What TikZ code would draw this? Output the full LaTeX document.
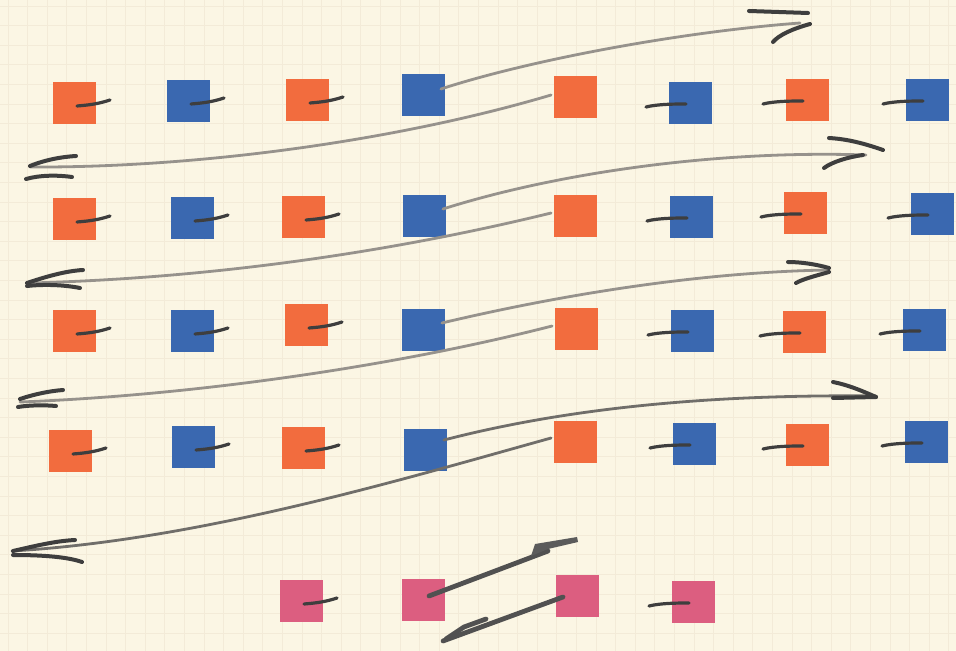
\documentclass[tikz,border=0pt]{standalone}
\usetikzlibrary{calc}
\definecolor{paper}{RGB}{251,246,228}
\definecolor{gridc}{RGB}{243,235,216}
\definecolor{orangeC}{RGB}{242,108,62}
\definecolor{blueC}{RGB}{58,104,176}
\definecolor{pinkC}{RGB}{220,94,128}
\definecolor{pencil}{RGB}{62,62,62}
\definecolor{lightpencil}{RGB}{150,146,140}
\definecolor{midpencil}{RGB}{112,110,106}
\newcommand\rtail[1]{\draw[tail] ([shift={(3,3)}]#1.center) .. controls +(12,-1) and +(-12,4) .. ([shift={(36,-3)}]#1.center);}
\newcommand\ltail[1]{\draw[tail] ([shift={(-44,4)}]#1.center) .. controls +(12,-3) and +(-10,0) .. ([shift={(-4,1)}]#1.center);}
\begin{document}
\begin{tikzpicture}[x=0.5pt,y=-0.5pt,
  sq/.style={rectangle,minimum width=21.5pt,minimum height=21pt,inner sep=0pt,draw=none},
  osq/.style={sq,fill=orangeC},
  bsq/.style={sq,fill=blueC},
  psq/.style={sq,fill=pinkC},
  tail/.style={draw=pencil,line width=1.6pt,line cap=round},
  shaft/.style={draw=lightpencil,line width=1.4pt,line cap=round},
  darkshaft/.style={draw=midpencil,line width=1.4pt,line cap=round},
  pinkshaft/.style={draw=pencil!90,line width=2.4pt,line cap=round},
  barb/.style={draw=pencil,line width=2pt,line cap=round},
  ]
\useasboundingbox (0,0) rectangle (956,651);
\fill[paper] (0,0) rectangle (956,651);
\foreach \i in {0,...,49} {\draw[gridc,line width=0.4pt] (\i*19.6+8,0) -- (\i*19.6+8,651);}
\foreach \j in {0,...,33} {\draw[gridc,line width=0.4pt] (0,\j*19.6+6) -- (956,\j*19.6+6);}

% row 1
\node[osq] (o11) at (74,103) {};
\node[bsq] (b12) at (188,101) {};
\node[osq] (o13) at (307,100) {};
\node[bsq] (b14) at (423,95) {};
\node[osq] (o15) at (575,97) {};
\node[bsq] (b16) at (690,103) {};
\node[osq] (o17) at (807,100) {};
\node[bsq] (b18) at (927,100) {};
% row 2
\node[osq] (o21) at (74,219) {};
\node[bsq] (b22) at (192,218) {};
\node[osq] (o23) at (303,217) {};
\node[bsq] (b24) at (424,216) {};
\node[osq] (o25) at (575,216) {};
\node[bsq] (b26) at (691,217) {};
\node[osq] (o27) at (805,213) {};
\node[bsq] (b28) at (932,214) {};
% row 3
\node[osq] (o31) at (74,331) {};
\node[bsq] (b32) at (192,331) {};
\node[osq] (o33) at (306,325) {};
\node[bsq] (b34) at (423,330) {};
\node[osq] (o35) at (576,329) {};
\node[bsq] (b36) at (692,331) {};
\node[osq] (o37) at (804,332) {};
\node[bsq] (b38) at (924,330) {};
% row 4
\node[osq] (o41) at (70,451) {};
\node[bsq] (b42) at (193,447) {};
\node[osq] (o43) at (303,448) {};
\node[bsq] (b44) at (425,450) {};
\node[osq] (o45) at (575,442) {};
\node[bsq] (b46) at (694,444) {};
\node[osq] (o47) at (807,445) {};
\node[bsq] (b48) at (926,442) {};
% pink row
\node[psq] (p1) at (301,601) {};
\node[psq] (p2) at (423,600) {};
\node[psq] (p3) at (577,596) {};
\node[psq] (p4) at (693,602) {};

% short tails
\foreach \n in {o11,b12,o13,o21,b22,o23,o31,b32,o33,o41,b42,o43,p1} {\rtail{\n}}
\foreach \n in {b16,o17,b18,b26,o27,b28,b36,o37,b38,b46,o47,b48,p4} {\ltail{\n}}

% tips
\coordinate (t1) at (800,23);
\coordinate (t2) at (30,167);
\coordinate (t3) at (866,155);
\coordinate (t4) at (30,283);
\coordinate (t5) at (829,270);
\coordinate (t6) at (20,402);
\coordinate (t7) at (876,396);
\coordinate (t8) at (12,551);
\coordinate (t9) at (548,551);
\coordinate (t10) at (443,641);

% long arrows
\draw[shaft] ([shift={(-4,-6)}]b14.east) .. controls (530,60) and (680,32) .. (t1);
\draw[barb] (808,13) -- (749,11);
\draw[barb] (810,24) .. controls (792,29) and (779,35) .. (773,42);

\draw[shaft] ([shift={(-2,-2)}]o15.west) .. controls (400,140) and (200,168) .. (t2);
\draw[barb] (30,166) .. controls (45,160) and (60,157) .. (76,156);
\draw[barb] (26,179) .. controls (40,175) and (58,175) .. (72,177);

\draw[shaft] ([shift={(-3,-7)}]b24.east) .. controls (560,172) and (720,150) .. (t3);
\draw[barb] (883,150) .. controls (860,142) and (845,139) .. (829,138);
\draw[barb] (863,155) .. controls (848,157) and (832,162) .. (824,168);

\draw[shaft] ([shift={(-2,-3)}]o25.west) .. controls (400,250) and (220,278) .. (t4);
\draw[barb] (27,283) .. controls (45,277) and (65,271) .. (83,270);
\draw[barb] (27,286) .. controls (45,284) and (65,285) .. (80,288);

\draw[shaft] ([shift={(-3,-7)}]b34.east) .. controls (560,295) and (700,272) .. (t5);
\draw[barb] (829,268) .. controls (815,264) and (800,262) .. (788,262);
\draw[barb] (829,272) .. controls (815,276) and (803,279) .. (796,283);

\draw[shaft] ([shift={(-2,-3)}]o35.west) .. controls (400,365) and (200,395) .. (t6);
\draw[barb] (20,399) .. controls (35,394) and (50,391) .. (63,390);
\draw[barb] (18,407) .. controls (30,405) and (45,405) .. (56,406);

\draw[darkshaft] ([shift={(-3,-10)}]b44.east) .. controls (560,410) and (700,394) .. (t7);
\draw[barb] (876,397) .. controls (860,390) and (848,385) .. (833,382);
\draw[barb] (876,397) -- (833,398);

\draw[darkshaft] ([shift={(-2,-4)}]o45.west) .. controls (400,480) and (200,540) .. (t8);
\draw[barb] (13,551) .. controls (35,546) and (55,541) .. (75,540);
\draw[barb] (13,555) .. controls (35,555) and (65,556) .. (82,562);

% pink arrows
\draw[pinkshaft] ([shift={(6,-4)}]p2.center) -- (t9);
\fill[pencil!85] (531,556) -- (535,544) -- (577,537) -- (578,542) -- (548,549) -- cycle;
\draw[pinkshaft] ([shift={(-14,1)}]p3.center) -- (t10);
\draw[pinkshaft] (446,639) -- (464,627) -- (486,619);
\end{tikzpicture}
\end{document}
